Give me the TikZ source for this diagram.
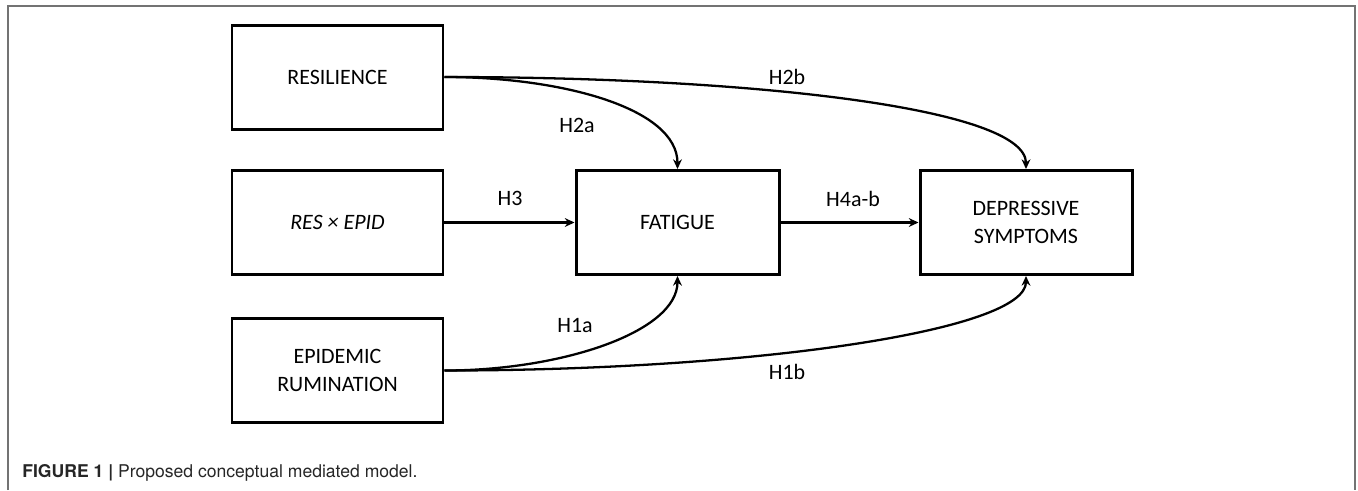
\documentclass[tikz,border=0pt]{standalone}
\usepackage{fontspec}
\setmainfont{Carlito}
\newfontfamily\capfont{TeX Gyre Heros}
\usetikzlibrary{arrows.meta}

\tikzset{
	box/.style={draw,line width=1.7pt,minimum width=4.22cm,minimum height=2.08cm,align=center,font=\fontsize{12.5}{16}\selectfont},
	link/.style={-{Stealth[length=5.5pt,width=5pt]},line width=1.3pt},
	hyp/.style={font=\fontsize{12.5}{16}\selectfont}
}

\begin{document}
\begin{tikzpicture}
	\useasboundingbox (0,0) rectangle (27.16,-9.8);
	\draw[black!55,line width=0.6pt] (0.16,-9.8) |- (27.1,-0.12) -- (27.1,-9.8);
	
	\node[box] (res) at (6.75,-1.54) {RESILIENCE};
	\node[box] (rxe) at (6.75,-4.45) {\textit{RES × EPID}};
	\node[box] (rum) at (6.75,-7.41) {EPIDEMIC\\RUMINATION};
	\node[box,minimum width=4.06cm] (fat) at (13.55,-4.45) {FATIGUE};
	\node[box,minimum width=4.24cm] (dep) at (20.52,-4.45) {DEPRESSIVE\\SYMPTOMS};
	
	\draw[link] (res.east) .. controls +(2.34,0) and +(0,1.22) .. (fat.north);
	\draw[link] (res.east) .. controls +(6.14,0) and +(0,1.22) .. (dep.north);
	\draw[link] (rxe) -- (fat);
	\draw[link] (fat) -- (dep);
	\draw[link] (rum.east) .. controls +(2.34,0) and +(0,-1.12) .. (fat.south);
	\draw[link] (rum.east) .. controls +(6.14,0) and +(0,-1.1) .. (dep.south);
	
	\path
	(11.54,-2.5) node[hyp] (h2a) {H2a}
	(15.74,-1.54) node[hyp] (h2b) {H2b}
	(10.2,-3.96) node[hyp] (h3) {H3}
	(17.06,-3.98) node[hyp] (h4) {H4a-b}
	(11.5,-6.5) node[hyp] (h1a) {H1a}
	(15.74,-7.44) node[hyp] (h1b) {H1b};
	
	\node[anchor=base west,inner sep=0,text=black!85,font=\capfont\fontsize{10}{12}\selectfont] (cap) at (0.44,-9.54) {\textbf{FIGURE 1 |} Proposed conceptual mediated model.};
\end{tikzpicture}
\end{document}
